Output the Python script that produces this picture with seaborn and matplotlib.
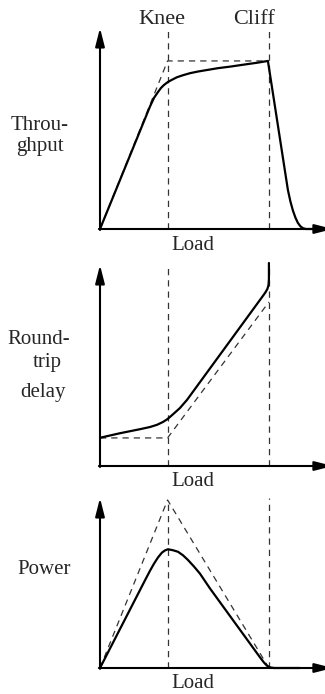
import matplotlib
matplotlib.use("Agg")
import matplotlib.pyplot as plt
import seaborn as sns

sns.set_style("white")
plt.rcParams["font.family"] = ["Liberation Serif", "DejaVu Serif"]

# Load positions of the operating points
knee = 1.0
cliff = 2.5
load_max = 3.33

# Throughput vs load
tput_load = [0, 0.740, 0.799, 0.858, 0.902, 0.947, 1.006, 1.065, 1.139, 1.228,
             1.331, 1.450, 1.583, 1.746, 1.923, 2.145, 2.337, 2.485, 2.781, 2.818,
             2.855, 2.892, 2.929, 2.966, 3.003, 3.047, 3.254]
tput_value = [0, 0.729, 0.780, 0.815, 0.839, 0.857, 0.875, 0.888, 0.903, 0.915,
              0.927, 0.937, 0.946, 0.957, 0.966, 0.979, 0.990, 1.0, 0.232, 0.164,
              0.110, 0.068, 0.036, 0.016, 0.005, 0, 0]
tput_ideal_load = [0, knee, cliff]
tput_ideal_value = [0, 1.0, 1.0]

# Round-trip delay vs load
delay_load = [0, 0.296, 0.592, 0.740, 0.843, 0.932, 0.991, 1.036, 1.109, 1.183,
              1.287, 2.411, 2.448, 2.478, 2.494, 2.5, 2.5]
delay_value = [0.168, 0.195, 0.219, 0.232, 0.245, 0.262, 0.277, 0.292, 0.318,
               0.345, 0.393, 1.012, 1.033, 1.054, 1.077, 1.113, 1.208]
delay_ideal_load = [0, knee, cliff]
delay_ideal_value = [0.167, 0.167, 0.976]

# Power vs load
power_load = [0, 0.370, 0.666, 0.740, 0.799, 0.858, 0.917, 0.962, 1.006, 1.080,
              1.154, 1.228, 1.302, 1.391, 1.479, 1.553, 1.627, 1.923, 2.219, 2.367,
              2.426, 2.470, 2.515, 2.574, 2.959]
power_value = [0, 0.290, 0.522, 0.579, 0.621, 0.658, 0.687, 0.700, 0.707, 0.701,
               0.692, 0.671, 0.643, 0.604, 0.562, 0.518, 0.474, 0.310, 0.146, 0.064,
               0.033, 0.014, 0.004, 0, 0]
power_ideal_load = [0, knee, cliff]
power_ideal_value = [0, 1.0, 0]

W, H = 325, 694
fig = plt.figure(figsize=(W / 100, H / 100), dpi=100, facecolor="white")


def px_axes(left, right, bottom, top):
    return fig.add_axes([left / W, 1 - bottom / H, (right - left) / W, (bottom - top) / H])


def ftext(x, y, s, size=15, **kw):
    fig.text(x / W, 1 - y / H, s, ha="center", va="center", fontsize=size, **kw)


def panel(ax, ymax, lx, ly, ilx, ily, knee_top, cliff_top):
    ax.set_xlim(0, load_max)
    ax.set_ylim(0, ymax)
    ax.set_axis_off()
    dash = dict(color="#333333", lw=0.9, dashes=(5, 4), clip_on=False)
    ax.plot([knee, knee], [0, knee_top], **dash)
    ax.plot([cliff, cliff], [0, cliff_top], **dash)
    sns.lineplot(x=ilx, y=ily, sort=False, ax=ax, estimator=None, **dash)
    sns.lineplot(x=lx, y=ly, sort=False, ax=ax, estimator=None,
                 color="black", lw=1.6, clip_on=False)
    arrow = dict(arrowstyle="-|>,head_length=0.55,head_width=0.14",
                 color="black", lw=1.5, mutation_scale=20, shrinkA=0, shrinkB=0)
    ax.annotate("", xy=(0, 1), xytext=(0, -0.005), xycoords="axes fraction",
                arrowprops=arrow, annotation_clip=False)
    ax.annotate("", xy=(1.035, 0), xytext=(-0.005, 0), xycoords="axes fraction",
                arrowprops=arrow, annotation_clip=False)


ax1 = px_axes(100, 325, 229, 28)
panel(ax1, 1.196, tput_load, tput_value, tput_ideal_load, tput_ideal_value, 1.185, 1.185)

ax2 = px_axes(100, 325, 466, 265)
panel(ax2, 1.196, delay_load, delay_value, delay_ideal_load, delay_ideal_value, 1.179, 1.179)

ax3 = px_axes(100, 325, 668, 498)
panel(ax3, 1.012, power_load, power_value, power_ideal_load, power_ideal_value, 1.0, 1.012)

# Labels
ftext(162, 19, "Knee", size=16)
ftext(254, 19, "Cliff", size=16)
ftext(40, 136, "Throu-\nghput", size=15, linespacing=1.2)
ftext(193, 245, "Load", size=15)

ftext(39, 339, "Round-", size=15)
ftext(47, 362, "trip", size=15)
ftext(43, 392, "delay", size=15)
ftext(193, 482, "Load", size=15)

ftext(44, 570, "Power", size=15)
ftext(193, 683, "Load", size=15)

fig.savefig("out.png", dpi=100, facecolor="white")
